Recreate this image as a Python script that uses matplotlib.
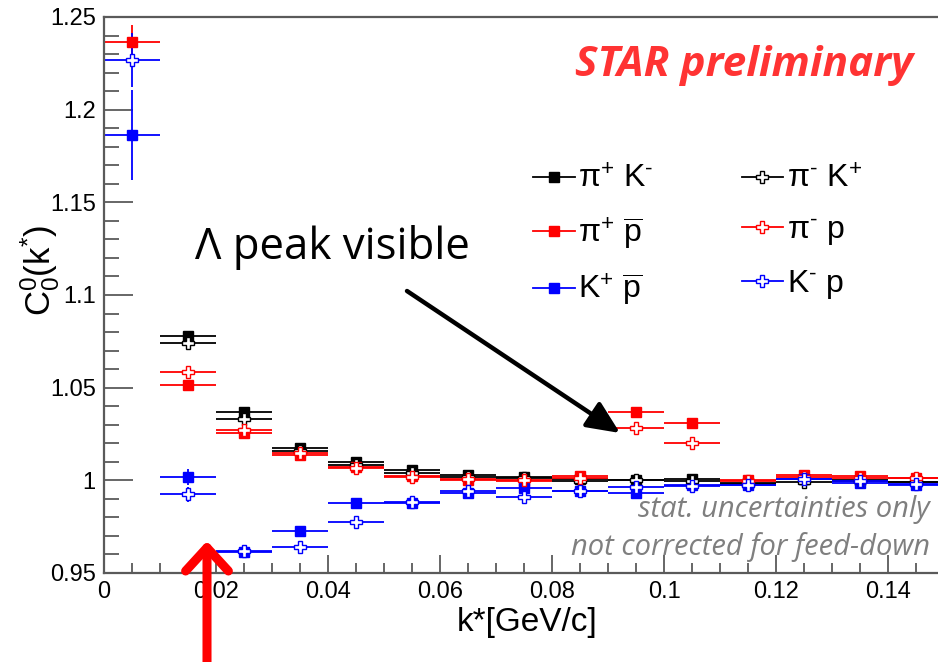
import numpy as np
import matplotlib
matplotlib.use("Agg")
import matplotlib.pyplot as plt
from matplotlib.lines import Line2D
from matplotlib.ticker import MultipleLocator, FixedLocator, FuncFormatter

# ---------------- data ----------------
k_centers = np.arange(0.005, 0.15, 0.01)
k_halfwidth = 0.005

nan = np.nan
pipKm = [nan, 1.0780, 1.0370, 1.0172, 1.0097, 1.0055, 1.0028, 1.0016, 1.0007, 1.0003, 1.0007, 0.9985, 1.0005, 1.0000, 0.9990]
pipKm_err = [0, 0.0020, 0.0015, 0.0012, 0.0010, 0.0010, 0.0008, 0.0008, 0.0008, 0.0008, 0.0008, 0.0008, 0.0008, 0.0008, 0.0008]
pimKp = [nan, 1.0739, 1.0329, 1.0160, 1.0085, 1.0040, 1.0020, 1.0010, 0.9995, 1.0000, 0.9995, 0.9980, 0.9990, 0.9995, 0.9990]
pimKp_err = [0, 0.0020, 0.0015, 0.0012, 0.0010, 0.0010, 0.0008, 0.0008, 0.0008, 0.0008, 0.0008, 0.0008, 0.0008, 0.0008, 0.0008]
pippbar = [1.2365, 1.0512, 1.0257, 1.0136, 1.0073, 1.0023, 1.0001, 0.9998, 1.0025, 1.0370, 1.0312, 1.0001, 1.0028, 1.0024, 1.0015]
pippbar_err = [0.0090, 0.0015, 0.0015, 0.0012, 0.0012, 0.0010, 0.0010, 0.0010, 0.0010, 0.0010, 0.0010, 0.0010, 0.0010, 0.0010, 0.0010]
pimp = [nan, 1.0586, 1.0270, 1.0145, 1.0065, 1.0020, 1.0005, 1.0000, 1.0015, 1.0284, 1.0204, 0.9995, 1.0020, 1.0015, 1.0010]
pimp_err = [0, 0.0015, 0.0015, 0.0012, 0.0012, 0.0010, 0.0010, 0.0010, 0.0010, 0.0010, 0.0010, 0.0010, 0.0010, 0.0010, 0.0010]
Kppbar = [1.1863, 1.0018, 0.9615, 0.9728, 0.9880, 0.9880, 0.9929, 0.9958, 0.9942, 0.9931, 0.9975, 0.9973, 1.0007, 0.9988, 0.9976]
Kppbar_err = [0.0245, 0.0045, 0.0030, 0.0025, 0.0020, 0.0015, 0.0012, 0.0012, 0.0012, 0.0012, 0.0012, 0.0012, 0.0012, 0.0012, 0.0012]
Kmp = [1.2268, 0.9924, 0.9620, 0.9642, 0.9776, 0.9885, 0.9940, 0.9910, 0.9945, 0.9962, 0.9970, 0.9975, 1.0005, 0.9995, 0.9980]
Kmp_err = [0.0146, 0.0040, 0.0020, 0.0020, 0.0015, 0.0012, 0.0010, 0.0010, 0.0010, 0.0010, 0.0010, 0.0010, 0.0010, 0.0010, 0.0010]

series = [
    (r"$\mathrm{\pi}^{+}\ \mathrm{K}^{\text{-}}$", pipKm, pipKm_err, "black", True),
    (r"$\mathrm{\pi}^{+}\ \overline{\mathrm{p}}$", pippbar, pippbar_err, "red", True),
    (r"$\mathrm{K}^{+}\ \overline{\mathrm{p}}$", Kppbar, Kppbar_err, "blue", True),
    (r"$\mathrm{\pi}^{\text{-}}\ \mathrm{K}^{+}$", pimKp, pimKp_err, "black", False),
    (r"$\mathrm{\pi}^{\text{-}}\ \mathrm{p}$", pimp, pimp_err, "red", False),
    (r"$\mathrm{K}^{\text{-}}\ \mathrm{p}$", Kmp, Kmp_err, "blue", False),
]
draw_order = [0, 3, 1, 4, 2, 5]

x_ticks = [0, 0.02, 0.04, 0.06, 0.08, 0.1, 0.12, 0.14]
y_ticks = [0.95, 1.0, 1.05, 1.1, 1.15, 1.2, 1.25]

# ---------------- style ----------------
plt.rcParams['font.family'] = ['Liberation Sans', 'DejaVu Sans']
plt.rcParams['mathtext.fontset'] = 'custom'
plt.rcParams['mathtext.rm'] = 'Liberation Sans'
plt.rcParams['mathtext.it'] = 'Liberation Sans:italic'
plt.rcParams['mathtext.bf'] = 'Liberation Sans:bold'

W, H = 938, 662
fig = plt.figure(figsize=(W / 100, H / 100), dpi=100)
ax = fig.add_axes([104 / W, 1 - 573 / H, 840 / W, 556 / H])

handles = {}
for i in draw_order:
    label, y, e, col, filled = series[i]
    if filled:
        kw = dict(marker='s', ms=6.5, mfc=col, mec=col, mew=1.0)
    else:
        kw = dict(marker='P', ms=8.5, mfc='white', mec=col, mew=1.0)
    ax.errorbar(k_centers, y, xerr=k_halfwidth, yerr=e, fmt='none',
                ecolor=col, elinewidth=1.3, capsize=0, zorder=2 + i * 0.1)
    ax.plot(k_centers, y, ls='none', zorder=3 + i * 0.1, **kw)
    handles[i] = Line2D([], [], color=col, lw=1.3, **kw)

ax.set_xlim(0, 0.15)
ax.set_ylim(0.95, 1.25)

frame_col = '#5a5a5a'
for s in ax.spines.values():
    s.set_color(frame_col)
    s.set_linewidth(1.6)

ax.xaxis.set_major_locator(FixedLocator(x_ticks))
ax.xaxis.set_minor_locator(MultipleLocator(0.005))
ax.yaxis.set_major_locator(FixedLocator(y_ticks))
ax.yaxis.set_minor_locator(MultipleLocator(0.01))

def fmt(v, pos):
    return ("%.2f" % v).rstrip('0').rstrip('.')
ax.xaxis.set_major_formatter(FuncFormatter(fmt))
ax.yaxis.set_major_formatter(FuncFormatter(fmt))

ax.tick_params(axis='both', which='both', direction='in', color=frame_col,
               top=False, right=False, labelsize=17, width=1.3)
ax.tick_params(axis='x', which='major', length=13, pad=6)
ax.tick_params(axis='x', which='minor', length=7)
ax.tick_params(axis='y', which='major', length=21, pad=6)
ax.tick_params(axis='y', which='minor', length=11)

# axis labels
fig.text(527 / W, 1 - 622 / H, 'k*[GeV/c]', ha='center', va='center', fontsize=24)
fig.text(40 / W, 1 - 270 / H, r'$\mathrm{C}_{0}^{0}(\mathrm{k}^{*})$', ha='center',
         va='center', rotation=90, fontsize=25)

# legend
order = [0, 1, 2, 3, 4, 5]
leg = ax.legend([handles[i] for i in order], [series[i][0] for i in order],
                ncol=2, frameon=False, fontsize=23,
                loc='upper left', bbox_to_anchor=(533 / W, 1 - 165 / H),
                bbox_transform=fig.transFigure,
                handlelength=1.3, handletextpad=0.12, columnspacing=2.75,
                labelspacing=0.64, borderpad=0, borderaxespad=0)

# annotations
calibri_like = ['Open Sans', 'DejaVu Sans']
fig.text(913 / W, 1 - 65 / H, 'STAR preliminary', ha='right', va='center',
         fontsize=30.5, color='#ff3333', family=calibri_like, weight='bold', style='italic')
fig.text(195 / W, 1 - 248 / H, 'Λ peak visible', ha='left', va='center',
         fontsize=31.5, color='black', family=calibri_like)
fig.text(930 / W, 1 - 510 / H, 'stat. uncertainties only', ha='right', va='center',
         fontsize=21, color='#7f7f7f', family=calibri_like, style='italic')
fig.text(930 / W, 1 - 547 / H, 'not corrected for feed-down', ha='right', va='center',
         fontsize=21, color='#7f7f7f', family=calibri_like, style='italic')

ax.annotate('', xy=(620 / W, 1 - 433 / H), xytext=(407 / W, 1 - 291 / H),
            xycoords='figure fraction', textcoords='figure fraction',
            arrowprops=dict(arrowstyle='-|>,head_length=1.0,head_width=0.45',
                            lw=3.2, color='black', mutation_scale=20,
                            shrinkA=0, shrinkB=0))
ax.annotate('', xy=(207 / W, 1 - 541 / H), xytext=(207 / W, -0.02),
            xycoords='figure fraction', textcoords='figure fraction',
            arrowprops=dict(arrowstyle='->,head_length=0.6,head_width=0.55',
                            lw=6.5, color='red', mutation_scale=28,
                            shrinkA=0, shrinkB=0), annotation_clip=False)

fig.savefig('out.png', dpi=100)
